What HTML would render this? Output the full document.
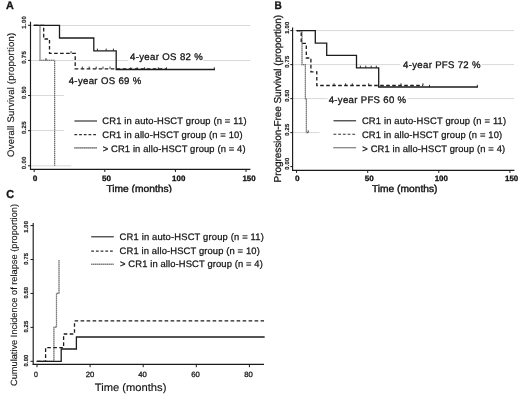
<!DOCTYPE html>
<html><head><meta charset="utf-8"><style>
html,body{margin:0;padding:0;background:#fff;width:520px;height:395px;overflow:hidden}
svg{display:block;will-change:transform}
text{font-family:"Liberation Sans", sans-serif;text-rendering:geometricPrecision}
</style></head><body>
<svg width="520" height="395" viewBox="0 0 520 395">
<rect width="520" height="395" fill="#fff"/>
<text x="6.0" y="8.8" font-size="11" text-anchor="start" font-weight="bold" fill="#141414" stroke="#141414" stroke-width="0.3" textLength="7.8" lengthAdjust="spacingAndGlyphs">A</text><line x1="30.5" y1="25.5" x2="250.3" y2="25.5" stroke="#d9d9d9" stroke-width="1"/><line x1="30.5" y1="60.5" x2="128.7" y2="60.5" stroke="#d9d9d9" stroke-width="1"/><line x1="203" y1="60.5" x2="250.3" y2="60.5" stroke="#d9d9d9" stroke-width="1"/><line x1="30.5" y1="95.5" x2="63.8" y2="95.5" stroke="#d9d9d9" stroke-width="1"/><line x1="30.5" y1="130.5" x2="63.8" y2="130.5" stroke="#d9d9d9" stroke-width="1"/><line x1="30.5" y1="165.8" x2="71.3" y2="165.8" stroke="#d9d9d9" stroke-width="1"/><line x1="30.5" y1="21.7" x2="30.5" y2="169.9" stroke="#1a1a1a" stroke-width="1.15"/><line x1="30" y1="169.4" x2="250.4" y2="169.4" stroke="#1a1a1a" stroke-width="1.15"/><line x1="28" y1="25.30000000000001" x2="30.5" y2="25.30000000000001" stroke="#1a1a1a" stroke-width="1"/><line x1="28" y1="60.42500000000001" x2="30.5" y2="60.42500000000001" stroke="#1a1a1a" stroke-width="1"/><line x1="28" y1="95.55000000000001" x2="30.5" y2="95.55000000000001" stroke="#1a1a1a" stroke-width="1"/><line x1="28" y1="130.675" x2="30.5" y2="130.675" stroke="#1a1a1a" stroke-width="1"/><line x1="28" y1="165.8" x2="30.5" y2="165.8" stroke="#1a1a1a" stroke-width="1"/><text transform="translate(26.0,22.35) rotate(-90)" font-size="6.0" text-anchor="middle" font-weight="bold" fill="#222" stroke="#222" stroke-width="0.18" textLength="12.6" lengthAdjust="spacing">1.00</text><text transform="translate(26.0,57.48) rotate(-90)" font-size="6.0" text-anchor="middle" font-weight="bold" fill="#222" stroke="#222" stroke-width="0.18" textLength="12.6" lengthAdjust="spacing">0.75</text><text transform="translate(26.0,92.6) rotate(-90)" font-size="6.0" text-anchor="middle" font-weight="bold" fill="#222" stroke="#222" stroke-width="0.18" textLength="12.6" lengthAdjust="spacing">0.50</text><text transform="translate(26.0,127.73) rotate(-90)" font-size="6.0" text-anchor="middle" font-weight="bold" fill="#222" stroke="#222" stroke-width="0.18" textLength="12.6" lengthAdjust="spacing">0.25</text><text transform="translate(26.0,162.85) rotate(-90)" font-size="6.0" text-anchor="middle" font-weight="bold" fill="#222" stroke="#222" stroke-width="0.18" textLength="12.6" lengthAdjust="spacing">0.00</text><line x1="34.2" y1="169.4" x2="34.2" y2="172.0" stroke="#1a1a1a" stroke-width="1"/><text x="35.1" y="180.8" font-size="7.8" text-anchor="middle" font-weight="bold" fill="#111" stroke="#111" stroke-width="0.3" textLength="4.6" lengthAdjust="spacingAndGlyphs">0</text><line x1="104.8" y1="169.4" x2="104.8" y2="172.0" stroke="#1a1a1a" stroke-width="1"/><text x="106.5" y="180.8" font-size="7.8" text-anchor="middle" font-weight="bold" fill="#111" stroke="#111" stroke-width="0.3" textLength="9.0" lengthAdjust="spacingAndGlyphs">50</text><line x1="175.39999999999998" y1="169.4" x2="175.39999999999998" y2="172.0" stroke="#1a1a1a" stroke-width="1"/><text x="178.7" y="180.8" font-size="7.8" text-anchor="middle" font-weight="bold" fill="#111" stroke="#111" stroke-width="0.3" textLength="13.2" lengthAdjust="spacingAndGlyphs">100</text><line x1="246.0" y1="169.4" x2="246.0" y2="172.0" stroke="#1a1a1a" stroke-width="1"/><text x="249.0" y="180.8" font-size="7.8" text-anchor="middle" font-weight="bold" fill="#111" stroke="#111" stroke-width="0.3" textLength="13.2" lengthAdjust="spacingAndGlyphs">150</text><text x="139.2" y="192.4" font-size="10" text-anchor="middle" font-weight="normal" fill="#141414" stroke="#141414" stroke-width="0.4" textLength="65.6" lengthAdjust="spacingAndGlyphs">Time (months)</text><rect x="100" y="192.7" width="80" height="3" fill="#fff"/><text transform="translate(13.7,94.8) rotate(-90)" font-size="9.5" text-anchor="middle" font-weight="normal" fill="#141414" stroke="#141414" stroke-width="0.12" textLength="124.2" lengthAdjust="spacing">Overall Survival (proportion)</text><path d="M34.2,25.3 H40.0 V60.3 H54.6 V165.8" stroke="#b4b4b4" stroke-width="1.2" fill="none"/><path d="M34.2,25.3 H40.0 V60.3 H54.6 V165.8" stroke="#707070" stroke-width="1.2" fill="none" stroke-dasharray="1 1"/><line x1="46" y1="60.3" x2="46" y2="58.099999999999994" stroke="#1c1c1c" stroke-width="0.9"/><path d="M34.2,25.3 H43.7 V39 H49.5 V53.4 H75.2 V68.8 H166" stroke="#1c1c1c" stroke-width="1.3" fill="none" stroke-dasharray="3.6 2.4"/><line x1="71" y1="53.4" x2="71" y2="51.199999999999996" stroke="#1c1c1c" stroke-width="0.9"/><line x1="82.3" y1="68.8" x2="82.3" y2="66.6" stroke="#1c1c1c" stroke-width="0.9"/><line x1="89.2" y1="68.8" x2="89.2" y2="66.6" stroke="#1c1c1c" stroke-width="0.9"/><line x1="96.2" y1="68.8" x2="96.2" y2="66.6" stroke="#1c1c1c" stroke-width="0.9"/><line x1="103" y1="68.8" x2="103" y2="66.6" stroke="#1c1c1c" stroke-width="0.9"/><line x1="110" y1="68.8" x2="110" y2="66.6" stroke="#1c1c1c" stroke-width="0.9"/><path d="M34.2,25.3 H59.5 V38 H93.8 V50.8 H116.2 V69.5 H214.3" stroke="#1c1c1c" stroke-width="1.3" fill="none" stroke-linejoin="miter" stroke-linecap="square"/><line x1="97.4" y1="50.8" x2="97.4" y2="48.599999999999994" stroke="#1c1c1c" stroke-width="0.9"/><line x1="106.2" y1="50.8" x2="106.2" y2="48.599999999999994" stroke="#1c1c1c" stroke-width="0.9"/><line x1="113.4" y1="50.8" x2="113.4" y2="48.599999999999994" stroke="#1c1c1c" stroke-width="0.9"/><line x1="130.8" y1="69.5" x2="130.8" y2="67.3" stroke="#1c1c1c" stroke-width="0.9"/><line x1="137.1" y1="69.5" x2="137.1" y2="67.3" stroke="#1c1c1c" stroke-width="0.9"/><line x1="144.6" y1="69.5" x2="144.6" y2="67.3" stroke="#1c1c1c" stroke-width="0.9"/><line x1="158.4" y1="69.5" x2="158.4" y2="67.3" stroke="#1c1c1c" stroke-width="0.9"/><line x1="166.5" y1="69.5" x2="166.5" y2="67.3" stroke="#1c1c1c" stroke-width="0.9"/><line x1="214.3" y1="69.5" x2="214.3" y2="67.3" stroke="#1c1c1c" stroke-width="0.9"/><rect x="128.7" y="52" width="74.3" height="10" fill="#fff"/><text x="130" y="60" font-size="9.6" text-anchor="start" font-weight="normal" fill="#141414" stroke="#141414" stroke-width="0.3" textLength="72.8" lengthAdjust="spacing">4-year OS 82 %</text><text x="68.7" y="84.2" font-size="9.6" text-anchor="start" font-weight="normal" fill="#141414" stroke="#141414" stroke-width="0.3" textLength="72.6" lengthAdjust="spacing">4-year OS 69 %</text><line x1="74.4" y1="121" x2="97.0" y2="121" stroke="#222" stroke-width="1.1"/><line x1="74.4" y1="134.6" x2="97.0" y2="134.6" stroke="#333" stroke-width="1.1" stroke-dasharray="2.8 1.9"/><line x1="74.4" y1="147.9" x2="97.0" y2="147.9" stroke="#a0a0a0" stroke-width="1.1"/><line x1="74.4" y1="147.9" x2="97.0" y2="147.9" stroke="#555" stroke-width="1.1" stroke-dasharray="1 1"/><text x="102.3" y="124.4" font-size="9.4" text-anchor="start" font-weight="normal" fill="#141414" stroke="#141414" stroke-width="0.25" textLength="144.2" lengthAdjust="spacing">CR1 in auto-HSCT group (n = 11)</text><text x="102.3" y="138.4" font-size="9.4" text-anchor="start" font-weight="normal" fill="#141414" stroke="#141414" stroke-width="0.25" textLength="140.2" lengthAdjust="spacing">CR1 in allo-HSCT group (n = 10)</text><text x="102.7" y="151.9" font-size="9.4" text-anchor="start" font-weight="normal" fill="#141414" stroke="#141414" stroke-width="0.25" textLength="142.8" lengthAdjust="spacing">&gt; CR1 in allo-HSCT group (n = 4)</text><text x="274.5" y="8.9" font-size="11" text-anchor="start" font-weight="bold" fill="#141414" stroke="#141414" stroke-width="0.3" textLength="7.3" lengthAdjust="spacingAndGlyphs">B</text><line x1="292.8" y1="30.6" x2="514.2" y2="30.6" stroke="#d9d9d9" stroke-width="1"/><line x1="292.8" y1="64.6" x2="400.6" y2="64.6" stroke="#d9d9d9" stroke-width="1"/><line x1="481.3" y1="64.6" x2="514.2" y2="64.6" stroke="#d9d9d9" stroke-width="1"/><line x1="292.8" y1="98.6" x2="327.6" y2="98.6" stroke="#d9d9d9" stroke-width="1"/><line x1="407.4" y1="98.6" x2="514.2" y2="98.6" stroke="#d9d9d9" stroke-width="1"/><line x1="292.8" y1="132.6" x2="319.6" y2="132.6" stroke="#d9d9d9" stroke-width="1"/><line x1="292.6" y1="27.5" x2="292.6" y2="171.0" stroke="#1a1a1a" stroke-width="1.15"/><line x1="292.3" y1="170.4" x2="514.4" y2="170.4" stroke="#1a1a1a" stroke-width="1.15"/><line x1="290.3" y1="30.599999999999994" x2="292.8" y2="30.599999999999994" stroke="#1a1a1a" stroke-width="1"/><line x1="290.3" y1="64.6" x2="292.8" y2="64.6" stroke="#1a1a1a" stroke-width="1"/><line x1="290.3" y1="98.6" x2="292.8" y2="98.6" stroke="#1a1a1a" stroke-width="1"/><line x1="290.3" y1="132.6" x2="292.8" y2="132.6" stroke="#1a1a1a" stroke-width="1"/><line x1="290.3" y1="166.6" x2="292.8" y2="166.6" stroke="#1a1a1a" stroke-width="1"/><text transform="translate(288.8,27.7) rotate(-90)" font-size="5.8" text-anchor="middle" font-weight="bold" fill="#222" stroke="#222" stroke-width="0.18" textLength="12.0" lengthAdjust="spacing">1.00</text><text transform="translate(288.8,61.7) rotate(-90)" font-size="5.8" text-anchor="middle" font-weight="bold" fill="#222" stroke="#222" stroke-width="0.18" textLength="12.0" lengthAdjust="spacing">0.75</text><text transform="translate(288.8,95.7) rotate(-90)" font-size="5.8" text-anchor="middle" font-weight="bold" fill="#222" stroke="#222" stroke-width="0.18" textLength="12.0" lengthAdjust="spacing">0.50</text><text transform="translate(288.8,129.7) rotate(-90)" font-size="5.8" text-anchor="middle" font-weight="bold" fill="#222" stroke="#222" stroke-width="0.18" textLength="12.0" lengthAdjust="spacing">0.25</text><text transform="translate(288.8,163.7) rotate(-90)" font-size="5.8" text-anchor="middle" font-weight="bold" fill="#222" stroke="#222" stroke-width="0.18" textLength="12.0" lengthAdjust="spacing">0.00</text><line x1="296.6" y1="170.3" x2="296.6" y2="172.9" stroke="#1a1a1a" stroke-width="1"/><text x="297.3" y="180.9" font-size="7.8" text-anchor="middle" font-weight="bold" fill="#111" stroke="#111" stroke-width="0.3" textLength="4.6" lengthAdjust="spacingAndGlyphs">0</text><line x1="367.70000000000005" y1="170.3" x2="367.70000000000005" y2="172.9" stroke="#1a1a1a" stroke-width="1"/><text x="369.3" y="180.9" font-size="7.8" text-anchor="middle" font-weight="bold" fill="#111" stroke="#111" stroke-width="0.3" textLength="9.0" lengthAdjust="spacingAndGlyphs">50</text><line x1="438.8" y1="170.3" x2="438.8" y2="172.9" stroke="#1a1a1a" stroke-width="1"/><text x="441.3" y="180.9" font-size="7.8" text-anchor="middle" font-weight="bold" fill="#111" stroke="#111" stroke-width="0.3" textLength="13.2" lengthAdjust="spacingAndGlyphs">100</text><line x1="509.9" y1="170.3" x2="509.9" y2="172.9" stroke="#1a1a1a" stroke-width="1"/><text x="511.6" y="180.9" font-size="7.8" text-anchor="middle" font-weight="bold" fill="#111" stroke="#111" stroke-width="0.3" textLength="13.2" lengthAdjust="spacingAndGlyphs">150</text><text x="404.7" y="192.3" font-size="10" text-anchor="middle" font-weight="normal" fill="#141414" stroke="#141414" stroke-width="0.4" textLength="65.6" lengthAdjust="spacingAndGlyphs">Time (months)</text><text transform="translate(280.7,98.6) rotate(-90)" font-size="10.0" text-anchor="middle" font-weight="normal" fill="#141414" stroke="#141414" stroke-width="0.25" textLength="167.6" lengthAdjust="spacing">Progression-Free Survival (proportion)</text><path d="M297,30.7 H302 V64.6 H305.4 V98.6 H306.4 V132.6 H308.2" stroke="#b4b4b4" stroke-width="1.2" fill="none"/><path d="M297,30.7 H302 V64.6 H305.4 V98.6 H306.4 V132.6 H308.2" stroke="#707070" stroke-width="1.2" fill="none" stroke-dasharray="1 1"/><line x1="308.2" y1="132.6" x2="308.2" y2="130.4" stroke="#1c1c1c" stroke-width="0.9"/><path d="M297,30.7 H301.2 V43.4 H306.3 V58 H310.9 V71.8 H316.8 V85.5 H423" stroke="#1c1c1c" stroke-width="1.3" fill="none" stroke-dasharray="3.6 2.4"/><line x1="334" y1="85.5" x2="334" y2="83.3" stroke="#1c1c1c" stroke-width="0.9"/><line x1="345.6" y1="85.5" x2="345.6" y2="83.3" stroke="#1c1c1c" stroke-width="0.9"/><line x1="352.3" y1="85.5" x2="352.3" y2="83.3" stroke="#1c1c1c" stroke-width="0.9"/><line x1="368.7" y1="85.5" x2="368.7" y2="83.3" stroke="#1c1c1c" stroke-width="0.9"/><line x1="401" y1="85.5" x2="401" y2="83.3" stroke="#1c1c1c" stroke-width="0.9"/><line x1="423" y1="85.5" x2="423" y2="83.3" stroke="#1c1c1c" stroke-width="0.9"/><path d="M297,30.7 H315.3 V43.1 H326.7 V55.4 H356.5 V67.9 H378.7 V87 H477.3" stroke="#1c1c1c" stroke-width="1.3" fill="none" stroke-linejoin="miter" stroke-linecap="square"/><line x1="360.4" y1="67.9" x2="360.4" y2="65.7" stroke="#1c1c1c" stroke-width="0.9"/><line x1="365.8" y1="67.9" x2="365.8" y2="65.7" stroke="#1c1c1c" stroke-width="0.9"/><line x1="371.2" y1="67.9" x2="371.2" y2="65.7" stroke="#1c1c1c" stroke-width="0.9"/><line x1="376.3" y1="67.9" x2="376.3" y2="65.7" stroke="#1c1c1c" stroke-width="0.9"/><line x1="429.5" y1="87" x2="429.5" y2="84.8" stroke="#1c1c1c" stroke-width="0.9"/><line x1="477.3" y1="87" x2="477.3" y2="84.8" stroke="#1c1c1c" stroke-width="0.9"/><rect x="400.6" y="59.5" width="80.7" height="10" fill="#fff"/><text x="403.1" y="67.7" font-size="9.6" text-anchor="start" font-weight="normal" fill="#141414" stroke="#141414" stroke-width="0.3" textLength="77.4" lengthAdjust="spacing">4-year PFS 72 %</text><text x="328.7" y="102.5" font-size="9.6" text-anchor="start" font-weight="normal" fill="#141414" stroke="#141414" stroke-width="0.3" textLength="77.4" lengthAdjust="spacing">4-year PFS 60 %</text><line x1="333.5" y1="120.8" x2="356.1" y2="120.8" stroke="#222" stroke-width="1.1"/><line x1="333.5" y1="134.3" x2="356.1" y2="134.3" stroke="#333" stroke-width="1.1" stroke-dasharray="2.8 1.9"/><line x1="333.5" y1="147.7" x2="356.1" y2="147.7" stroke="#a0a0a0" stroke-width="1.1"/><line x1="333.5" y1="147.7" x2="356.1" y2="147.7" stroke="#555" stroke-width="1.1" stroke-dasharray="1 1"/><text x="361.9" y="124.2" font-size="9.4" text-anchor="start" font-weight="normal" fill="#141414" stroke="#141414" stroke-width="0.25" textLength="144.2" lengthAdjust="spacing">CR1 in auto-HSCT group (n = 11)</text><text x="361.9" y="138.0" font-size="9.4" text-anchor="start" font-weight="normal" fill="#141414" stroke="#141414" stroke-width="0.25" textLength="140.2" lengthAdjust="spacing">CR1 in allo-HSCT group (n = 10)</text><text x="362.29999999999995" y="151.5" font-size="9.4" text-anchor="start" font-weight="normal" fill="#141414" stroke="#141414" stroke-width="0.25" textLength="142.8" lengthAdjust="spacing">&gt; CR1 in allo-HSCT group (n = 4)</text><text x="6.3" y="198.1" font-size="11.5" text-anchor="start" font-weight="bold" fill="#141414" stroke="#141414" stroke-width="0.3" textLength="7.8" lengthAdjust="spacingAndGlyphs">C</text><line x1="33.2" y1="223.0" x2="33.2" y2="365.0" stroke="#1a1a1a" stroke-width="1.15"/><line x1="32.7" y1="364.4" x2="264.0" y2="364.4" stroke="#1a1a1a" stroke-width="1.15"/><line x1="30.5" y1="225.60000000000002" x2="33.2" y2="225.60000000000002" stroke="#1a1a1a" stroke-width="1"/><line x1="30.5" y1="259.52500000000003" x2="33.2" y2="259.52500000000003" stroke="#1a1a1a" stroke-width="1"/><line x1="30.5" y1="293.45000000000005" x2="33.2" y2="293.45000000000005" stroke="#1a1a1a" stroke-width="1"/><line x1="30.5" y1="327.375" x2="33.2" y2="327.375" stroke="#1a1a1a" stroke-width="1"/><line x1="30.5" y1="361.3" x2="33.2" y2="361.3" stroke="#1a1a1a" stroke-width="1"/><text transform="translate(27.9,226.9) rotate(-90)" font-size="5.8" text-anchor="middle" font-weight="bold" fill="#222" stroke="#222" stroke-width="0.18" textLength="11.6" lengthAdjust="spacing">1.00</text><text transform="translate(27.9,258.83) rotate(-90)" font-size="5.8" text-anchor="middle" font-weight="bold" fill="#222" stroke="#222" stroke-width="0.18" textLength="11.6" lengthAdjust="spacing">0.75</text><text transform="translate(27.9,292.75) rotate(-90)" font-size="5.8" text-anchor="middle" font-weight="bold" fill="#222" stroke="#222" stroke-width="0.18" textLength="11.6" lengthAdjust="spacing">0.50</text><text transform="translate(27.9,326.68) rotate(-90)" font-size="5.8" text-anchor="middle" font-weight="bold" fill="#222" stroke="#222" stroke-width="0.18" textLength="11.6" lengthAdjust="spacing">0.25</text><text transform="translate(27.9,360.6) rotate(-90)" font-size="5.8" text-anchor="middle" font-weight="bold" fill="#222" stroke="#222" stroke-width="0.18" textLength="11.6" lengthAdjust="spacing">0.00</text><line x1="37.0" y1="364.4" x2="37.0" y2="367.2" stroke="#1a1a1a" stroke-width="1"/><text x="35.9" y="377" font-size="7.7" text-anchor="middle" font-weight="normal" fill="#1a1a1a" stroke="#1a1a1a" stroke-width="0.3" textLength="3.9" lengthAdjust="spacingAndGlyphs">0</text><line x1="90.1" y1="364.4" x2="90.1" y2="367.2" stroke="#1a1a1a" stroke-width="1"/><text x="90.0" y="377" font-size="7.7" text-anchor="middle" font-weight="normal" fill="#1a1a1a" stroke="#1a1a1a" stroke-width="0.3" textLength="8.6" lengthAdjust="spacingAndGlyphs">20</text><line x1="143.2" y1="364.4" x2="143.2" y2="367.2" stroke="#1a1a1a" stroke-width="1"/><text x="142.6" y="377" font-size="7.7" text-anchor="middle" font-weight="normal" fill="#1a1a1a" stroke="#1a1a1a" stroke-width="0.3" textLength="8.6" lengthAdjust="spacingAndGlyphs">40</text><line x1="196.29999999999998" y1="364.4" x2="196.29999999999998" y2="367.2" stroke="#1a1a1a" stroke-width="1"/><text x="195.6" y="377" font-size="7.7" text-anchor="middle" font-weight="normal" fill="#1a1a1a" stroke="#1a1a1a" stroke-width="0.3" textLength="8.6" lengthAdjust="spacingAndGlyphs">60</text><line x1="249.39999999999998" y1="364.4" x2="249.39999999999998" y2="367.2" stroke="#1a1a1a" stroke-width="1"/><text x="248.5" y="377" font-size="7.7" text-anchor="middle" font-weight="normal" fill="#1a1a1a" stroke="#1a1a1a" stroke-width="0.3" textLength="8.6" lengthAdjust="spacingAndGlyphs">80</text><text x="130.6" y="391.1" font-size="10.8" text-anchor="middle" font-weight="normal" fill="#141414" stroke="#141414" stroke-width="0.15" textLength="71.6" lengthAdjust="spacingAndGlyphs">Time (months)</text><text transform="translate(16.8,295.0) rotate(-90)" font-size="9.0" text-anchor="middle" font-weight="normal" fill="#141414" stroke="#141414" stroke-width="0.12" textLength="182.0" lengthAdjust="spacingAndGlyphs">Cumulative Incidence of relapse (proportion)</text><path d="M37.1,361.4 H53.9 V327.2 H56.5 V293.4 H59.0 V260" stroke="#b4b4b4" stroke-width="1.2" fill="none"/><path d="M37.1,361.4 H53.9 V327.2 H56.5 V293.4 H59.0 V260" stroke="#707070" stroke-width="1.2" fill="none" stroke-dasharray="1 1"/><path d="M37.1,361.4 H45.6 V347.6 H63.6 V334 H74.5 V320.9 H264" stroke="#1c1c1c" stroke-width="1.3" fill="none" stroke-dasharray="3.6 2.4"/><path d="M37.1,361.4 H61.2 V349 H76.4 V337 H264" stroke="#1c1c1c" stroke-width="1.3" fill="none" stroke-linejoin="miter" stroke-linecap="square"/><line x1="91.2" y1="236.8" x2="113.80000000000001" y2="236.8" stroke="#222" stroke-width="1.1"/><line x1="91.2" y1="251.1" x2="113.80000000000001" y2="251.1" stroke="#333" stroke-width="1.1" stroke-dasharray="2.8 1.9"/><line x1="91.2" y1="264.2" x2="113.80000000000001" y2="264.2" stroke="#a0a0a0" stroke-width="1.1"/><line x1="91.2" y1="264.2" x2="113.80000000000001" y2="264.2" stroke="#555" stroke-width="1.1" stroke-dasharray="1 1"/><text x="119.6" y="240.3" font-size="9.4" text-anchor="start" font-weight="normal" fill="#141414" stroke="#141414" stroke-width="0.25" textLength="144.2" lengthAdjust="spacing">CR1 in auto-HSCT group (n = 11)</text><text x="119.6" y="254.2" font-size="9.4" text-anchor="start" font-weight="normal" fill="#141414" stroke="#141414" stroke-width="0.25" textLength="140.2" lengthAdjust="spacing">CR1 in allo-HSCT group (n = 10)</text><text x="120.0" y="267.2" font-size="9.4" text-anchor="start" font-weight="normal" fill="#141414" stroke="#141414" stroke-width="0.25" textLength="142.8" lengthAdjust="spacing">&gt; CR1 in allo-HSCT group (n = 4)</text>
</svg>
</body></html>
